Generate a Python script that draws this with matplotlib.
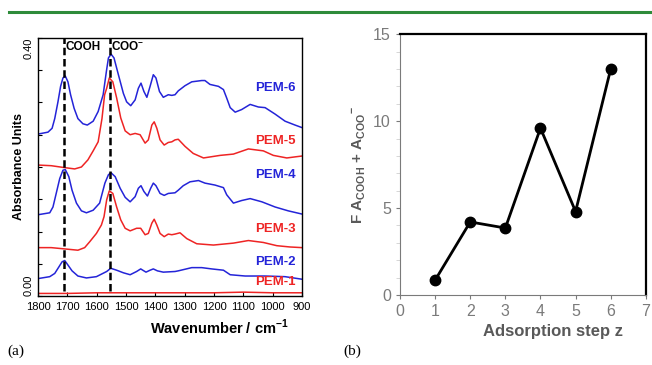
import matplotlib
matplotlib.use("Agg")
import matplotlib.pyplot as plt
from matplotlib.lines import Line2D

plt.rcParams['font.family'] = ['Liberation Sans', 'DejaVu Sans']

# --- (a) FTIR spectra ---
wn_pem6 = [1800, 1766, 1752, 1743, 1732, 1723, 1715, 1707, 1698, 1689, 1677, 1664, 1647, 1632,
           1612, 1595, 1578, 1567, 1560, 1551, 1541, 1526, 1509, 1498, 1484, 1469, 1458, 1449,
           1439, 1429, 1418, 1407, 1398, 1386, 1373, 1356, 1344, 1333, 1322, 1299, 1276, 1242,
           1231, 1214, 1185, 1168, 1157, 1145, 1128, 1106, 1077, 1049, 1026, 992, 958, 924, 900]
abs_pem6 = [0.251, 0.254, 0.260, 0.275, 0.301, 0.325, 0.338, 0.341, 0.332, 0.312, 0.291, 0.275,
            0.267, 0.265, 0.271, 0.286, 0.312, 0.348, 0.369, 0.375, 0.369, 0.343, 0.314, 0.301,
            0.295, 0.304, 0.322, 0.330, 0.317, 0.308, 0.325, 0.343, 0.338, 0.317, 0.308, 0.312,
            0.311, 0.312, 0.318, 0.326, 0.332, 0.334, 0.334, 0.328, 0.325, 0.320, 0.307, 0.292,
            0.285, 0.289, 0.297, 0.293, 0.292, 0.282, 0.271, 0.265, 0.261]

wn_pem5 = [1800, 1755, 1709, 1675, 1652, 1630, 1612, 1595, 1582, 1573, 1566, 1557, 1545, 1532,
           1518, 1503, 1486, 1469, 1452, 1435, 1424, 1412, 1404, 1395, 1384, 1370, 1356, 1344,
           1333, 1322, 1299, 1271, 1236, 1179, 1134, 1083, 1032, 998, 952, 918, 900]
abs_pem5 = [0.203, 0.202, 0.199, 0.197, 0.200, 0.211, 0.225, 0.239, 0.275, 0.312, 0.322, 0.338,
            0.332, 0.307, 0.276, 0.256, 0.250, 0.252, 0.250, 0.237, 0.242, 0.265, 0.270, 0.260,
            0.242, 0.234, 0.238, 0.239, 0.242, 0.243, 0.232, 0.221, 0.214, 0.218, 0.220, 0.228,
            0.225, 0.218, 0.214, 0.216, 0.217]

wn_pem4 = [1800, 1760, 1749, 1738, 1726, 1715, 1707, 1695, 1684, 1669, 1652, 1635, 1612, 1590,
           1572, 1560, 1551, 1537, 1520, 1503, 1486, 1469, 1458, 1449, 1439, 1427, 1416, 1407,
           1398, 1384, 1370, 1356, 1333, 1322, 1305, 1282, 1253, 1231, 1197, 1168, 1157, 1134,
           1106, 1077, 1037, 992, 947, 900]
abs_pem4 = [0.126, 0.129, 0.138, 0.159, 0.182, 0.195, 0.196, 0.185, 0.164, 0.144, 0.132, 0.129,
            0.133, 0.144, 0.175, 0.188, 0.191, 0.185, 0.167, 0.153, 0.146, 0.154, 0.167, 0.171,
            0.162, 0.155, 0.167, 0.175, 0.171, 0.159, 0.156, 0.159, 0.160, 0.164, 0.171, 0.177,
            0.179, 0.175, 0.172, 0.168, 0.157, 0.144, 0.148, 0.151, 0.146, 0.138, 0.132, 0.127]

wn_pem3 = [1800, 1755, 1709, 1664, 1641, 1624, 1601, 1584, 1575, 1566, 1557, 1545, 1532, 1518,
           1503, 1486, 1464, 1450, 1435, 1424, 1412, 1404, 1395, 1384, 1370, 1356, 1344, 1333,
           1316, 1293, 1259, 1202, 1134, 1083, 1032, 986, 941, 900]
abs_pem3 = [0.075, 0.075, 0.073, 0.071, 0.075, 0.084, 0.097, 0.110, 0.123, 0.149, 0.163, 0.159,
            0.138, 0.118, 0.105, 0.101, 0.105, 0.105, 0.095, 0.097, 0.113, 0.119, 0.110, 0.097,
            0.092, 0.096, 0.095, 0.096, 0.098, 0.089, 0.081, 0.079, 0.082, 0.086, 0.083, 0.078,
            0.076, 0.075]

wn_pem2 = [1800, 1760, 1743, 1729, 1718, 1709, 1698, 1684, 1664, 1635, 1601, 1566, 1552, 1532,
           1509, 1486, 1464, 1450, 1432, 1418, 1407, 1393, 1373, 1333, 1322, 1276, 1242, 1208,
           1168, 1145, 1094, 1026, 958, 900]
abs_pem2 = [0.027, 0.030, 0.035, 0.045, 0.053, 0.055, 0.048, 0.039, 0.031, 0.028, 0.030, 0.038,
            0.043, 0.040, 0.036, 0.033, 0.038, 0.042, 0.037, 0.040, 0.042, 0.039, 0.037, 0.038,
            0.039, 0.044, 0.044, 0.042, 0.040, 0.033, 0.031, 0.031, 0.030, 0.026]

wn_pem1 = [1800, 1700, 1600, 1500, 1400, 1300, 1200, 1100, 1000, 900]
abs_pem1 = [0.004, 0.004, 0.005, 0.005, 0.005, 0.005, 0.005, 0.006, 0.005, 0.005]

spectra = [("PEM-6", wn_pem6, abs_pem6), ("PEM-5", wn_pem5, abs_pem5),
           ("PEM-4", wn_pem4, abs_pem4), ("PEM-3", wn_pem3, abs_pem3),
           ("PEM-2", wn_pem2, abs_pem2), ("PEM-1", wn_pem1, abs_pem1)]
label_y = [0.323, 0.240, 0.187, 0.104, 0.052, 0.021]
band_wn = [1711, 1556]
band_names = ["COOH", "COO$^{\\mathregular{-}}$"]

# --- (b) sum of band areas per adsorption step ---
steps = [1, 2, 3, 4, 5, 6]
area_sum = [0.85, 4.2, 3.85, 9.6, 4.8, 13.0]

blue = "#2424d8"
red = "#ee2424"
grey = "#595959"
light_grey = "#7a7a7a"

fig = plt.figure(figsize=(6.52, 3.65), dpi=100)

# green rule on top
fig.add_artist(Line2D([0.014, 1.0], [0.967, 0.967], color="#2e8b3a", lw=2.2,
                      transform=fig.transFigure))

ax1 = fig.add_axes([0.0583, 0.189, 0.405, 0.707])
for i, (name, wn, ab) in enumerate(spectra):
    col = blue if i % 2 == 0 else red
    ax1.plot(wn, ab, color=col, lw=1.1, solid_joinstyle="round")
    ax1.text(922, label_y[i], name, color=col, fontsize=9.5, fontweight="bold",
             ha="right", va="center")
for wn, name in zip(band_wn, band_names):
    ax1.plot([wn, wn], [0.007, 0.40], color="black", lw=1.8, ls=(0, (3, 1.5)))
    ax1.text(wn - 6, 0.386, name, fontsize=8.5, fontweight="bold", ha="left", va="center")

ax1.set_xlim(1800, 900)
ax1.set_ylim(0.0, 0.40)
ax1.set_xticks([1800, 1700, 1600, 1500, 1400, 1300, 1200, 1100, 1000, 900])
ax1.set_yticks([0.0, 0.05, 0.10, 0.15, 0.20, 0.25, 0.30, 0.35, 0.40])
ax1.set_yticklabels(["0.00", "", "", "", "", "", "", "", "0.40"], rotation=90)
ylabs = ax1.get_yticklabels()
ylabs[0].set_va("bottom")
ylabs[-1].set_va("top")
ax1.tick_params(direction="in", length=3, labelsize=8)
ax1.tick_params(axis="x", pad=4)
ax1.set_xlabel("Wavenumber / cm$^{\\mathregular{-1}}$", fontsize=10.5, fontweight="bold", labelpad=0)
ax1.xaxis.set_label_coords(0.686, -0.085)
ax1.set_ylabel("Absorbance Units", fontsize=9, fontweight="bold", labelpad=-1)
for s in ax1.spines.values():
    s.set_linewidth(1.0)

ax2 = fig.add_axes([0.6135, 0.192, 0.377, 0.714])
ax2.plot(steps, area_sum, color="black", lw=2, marker="o", markersize=7.5)
ax2.set_xlim(0, 7)
ax2.set_ylim(0, 15)
ax2.set_xticks(range(0, 8))
ax2.set_yticks([0, 5, 10, 15])
ax2.set_yticks([1, 2, 3, 4, 6, 7, 8, 9, 11, 12, 13, 14], minor=True)
ax2.tick_params(colors=light_grey, labelsize=11.5, length=3, width=0.8)
ax2.tick_params(which="minor", colors="#d0d0d0", length=3)
ax2.spines["left"].set_color(light_grey)
ax2.spines["bottom"].set_color(light_grey)
ax2.spines["left"].set_linewidth(0.8)
ax2.spines["bottom"].set_linewidth(0.8)
ax2.spines["top"].set_linewidth(1.6)
ax2.spines["right"].set_linewidth(1.6)
ax2.set_xlabel("Adsorption step z", fontsize=12, fontweight="bold", color=grey)
ax2.xaxis.set_label_coords(0.623, -0.11)
ax2.set_ylabel("F A$_{\\mathregular{COOH}}$ + A$_{\\mathregular{COO}}$$^{\\mathregular{-}}$",
               fontsize=11, fontweight="bold", color=grey, labelpad=4)

fig.text(0.012, 0.028, "(a)", fontsize=11, family="Liberation Serif")
fig.text(0.527, 0.028, "(b)", fontsize=11, family="Liberation Serif")

fig.savefig("out.png", dpi=100)
